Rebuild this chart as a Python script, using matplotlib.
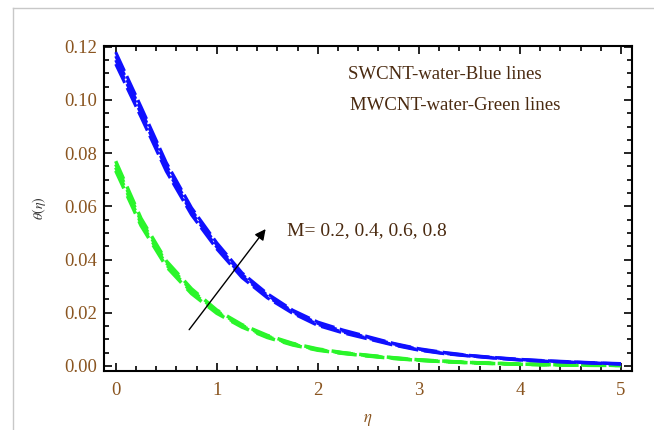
import matplotlib
matplotlib.use("Agg")
import matplotlib.pyplot as plt
from matplotlib.lines import Line2D
from matplotlib.ticker import MultipleLocator, FormatStrFormatter

plt.rcParams['font.family'] = ['Liberation Serif', 'DejaVu Serif']
plt.rcParams['mathtext.fontset'] = 'stix'
plt.rcParams['lines.scale_dashes'] = False

# eta grid and temperature profiles
eta = [0.0, 0.25, 0.5, 0.75, 1.0, 1.25, 1.5, 1.75, 2.0, 2.25, 2.5,
       2.75, 3.0, 3.25, 3.5, 3.75, 4.0, 4.25, 4.5, 4.75, 5.0]

M_values = [0.2, 0.4, 0.6, 0.8]

swcnt_m02 = [0.1135, 0.0936, 0.0732, 0.0568, 0.0440, 0.0332, 0.0256, 0.0198, 0.0152, 0.0124, 0.0101,
             0.0078, 0.0059, 0.0046, 0.0037, 0.0029, 0.0022, 0.0017, 0.0014, 0.0010, 0.0007]
swcnt_m04 = [0.1150, 0.0949, 0.0743, 0.0577, 0.0447, 0.0338, 0.0261, 0.0202, 0.0156, 0.0127, 0.0104,
             0.0080, 0.0061, 0.0047, 0.0038, 0.0030, 0.0023, 0.0018, 0.0014, 0.0011, 0.0007]
swcnt_m06 = [0.1165, 0.0962, 0.0754, 0.0586, 0.0455, 0.0344, 0.0266, 0.0206, 0.0160, 0.0131, 0.0107,
             0.0083, 0.0063, 0.0049, 0.0039, 0.0031, 0.0024, 0.0019, 0.0015, 0.0011, 0.0008]
swcnt_m08 = [0.1180, 0.0975, 0.0765, 0.0595, 0.0463, 0.0350, 0.0272, 0.0210, 0.0165, 0.0135, 0.0110,
             0.0085, 0.0065, 0.0051, 0.0040, 0.0032, 0.0025, 0.0020, 0.0016, 0.0012, 0.0009]

mwcnt_m02 = [0.0734, 0.0528, 0.0374, 0.0272, 0.0198, 0.0146, 0.0107, 0.0079, 0.0059, 0.0047, 0.0037,
             0.0028, 0.0021, 0.0016, 0.0012, 0.0009, 0.0006, 0.0005, 0.0003, 0.0002, 0.0002]
mwcnt_m04 = [0.0746, 0.0537, 0.0381, 0.0278, 0.0202, 0.0149, 0.0110, 0.0081, 0.0061, 0.0048, 0.0038,
             0.0029, 0.0022, 0.0017, 0.0012, 0.0009, 0.0007, 0.0005, 0.0004, 0.0003, 0.0002]
mwcnt_m06 = [0.0758, 0.0546, 0.0388, 0.0284, 0.0206, 0.0152, 0.0112, 0.0083, 0.0062, 0.0049, 0.0039,
             0.0030, 0.0022, 0.0017, 0.0013, 0.0010, 0.0007, 0.0005, 0.0004, 0.0003, 0.0002]
mwcnt_m08 = [0.0770, 0.0555, 0.0395, 0.0290, 0.0210, 0.0155, 0.0115, 0.0085, 0.0064, 0.0050, 0.0040,
             0.0031, 0.0023, 0.0018, 0.0013, 0.0010, 0.0007, 0.0005, 0.0004, 0.0003, 0.0002]

swcnt = [swcnt_m02, swcnt_m04, swcnt_m06, swcnt_m08]
mwcnt = [mwcnt_m02, mwcnt_m04, mwcnt_m06, mwcnt_m08]

label_color = '#8a5520'
text_color = '#4a2a10'

fig = plt.figure(figsize=(6.54, 4.30), dpi=100)
ax = fig.add_axes([104 / 654, 1 - 371 / 430, 528 / 654, 325 / 430])

# light gray frame of the original screenshot
fig.add_artist(Line2D([13 / 654, 13 / 654], [0, 1 - 8 / 430], color='#c8c8c8', lw=1.0))
fig.add_artist(Line2D([13 / 654, 1], [1 - 8 / 430, 1 - 8 / 430], color='#c8c8c8', lw=1.0))

for ys in mwcnt:
    ax.plot(eta, ys, color='#2af52a', lw=2.5, linestyle=(0, (14, 6)),
            dash_capstyle='butt')
for ys in swcnt:
    ax.plot(eta, ys, color='#1010ff', lw=2.2, linestyle=(0, (15, 4)),
            dash_capstyle='butt')

ax.set_xlim(-0.116, 5.109)
ax.set_ylim(-0.0019, 0.1203)

ax.xaxis.set_major_locator(MultipleLocator(1))
ax.xaxis.set_minor_locator(MultipleLocator(0.2))
ax.yaxis.set_major_locator(MultipleLocator(0.02))
ax.yaxis.set_minor_locator(MultipleLocator(0.005))
ax.yaxis.set_major_formatter(FormatStrFormatter('%.2f'))

ax.tick_params(which='both', direction='in', top=True, right=True, width=1.2,
               labelsize=13.5, labelcolor=label_color)
ax.tick_params(which='major', length=6)
ax.tick_params(which='minor', length=3.5)
ax.tick_params(axis='x', pad=8)
ax.tick_params(axis='y', pad=5)
for s in ax.spines.values():
    s.set_linewidth(1.5)

ax.set_xlabel(r'$\eta$', fontsize=12, color=label_color, labelpad=9)
ax.set_ylabel(r'$\theta(\eta)$', fontsize=10, color='#333333', labelpad=12)

ax.text(2.30, 0.1094, 'SWCNT-water-Blue lines', fontsize=13.5, color=text_color, va='center')
ax.text(2.32, 0.0981, 'MWCNT-water-Green lines', fontsize=13.5, color=text_color, va='center')
ax.text(1.69, 0.0508, 'M= ' + ', '.join(str(m) for m in M_values), fontsize=14,
        color=text_color, va='center')

ax.annotate('', xy=(1.50, 0.0523), xytext=(0.71, 0.0128),
            arrowprops=dict(arrowstyle='-|>', color='black', lw=1.0, mutation_scale=16))

fig.savefig('out.png', dpi=100)
